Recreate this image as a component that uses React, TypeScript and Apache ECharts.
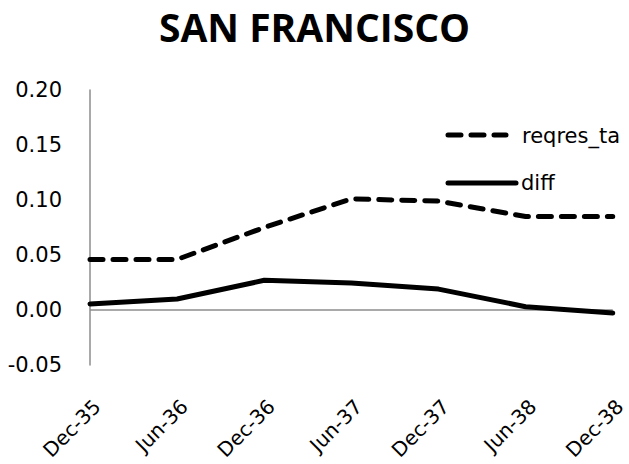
import React, { useEffect, useRef } from "react";
import * as echarts from "echarts";

const categories = ["Dec-35", "Jun-36", "Dec-36", "Jun-37", "Dec-37", "Jun-38", "Dec-38"];
const reqresTa = [0.046, 0.046, 0.075, 0.101, 0.099, 0.085, 0.085];
const diff = [0.0055, 0.010, 0.027, 0.0245, 0.019, 0.003, -0.0027];
const seriesNames = ["reqres_ta", "diff"];
const yTicks = { min: -0.05, max: 0.2, interval: 0.05 };

const labelFont = "DejaVu Sans";
const dash = [13, 10];

export default function App() {
  const ref = useRef<HTMLDivElement>(null);
  useEffect(() => {
    if (!ref.current) return;
    const chart = echarts.init(ref.current, undefined, { renderer: "svg" });
    chart.setOption({
      animation: false,
      backgroundColor: "#ffffff",
      title: {
        text: "SAN FRANCISCO",
        left: "center",
        top: 2,
        textStyle: { fontFamily: "Open Sans", fontWeight: "bold", fontSize: 39, color: "#000" },
      },
      graphic: [
        {
          type: "line",
          shape: { x1: 448, y1: 135, x2: 506, y2: 135 },
          style: { stroke: "#000", lineWidth: 5, lineDash: dash, lineCap: "round" },
        },
        {
          type: "text",
          x: 522,
          y: 136,
          style: { text: seriesNames[0], fontFamily: labelFont, fontSize: 21, fill: "#000", verticalAlign: "middle", align: "left" },
        },
        {
          type: "line",
          shape: { x1: 448, y1: 183, x2: 516, y2: 183 },
          style: { stroke: "#000", lineWidth: 5, lineCap: "round" },
        },
        {
          type: "text",
          x: 521,
          y: 183,
          style: { text: seriesNames[1], fontFamily: labelFont, fontSize: 21, fill: "#000", verticalAlign: "middle", align: "left" },
        },
      ],
      grid: { left: 90, right: 8, top: 90, bottom: 99 },
      xAxis: {
        type: "category",
        data: categories,
        boundaryGap: false,
        axisLine: { show: false },
        axisTick: { show: false },
        axisLabel: {
          rotate: 45,
          margin: 31,
          verticalAlign: "top",
          fontFamily: labelFont,
          fontSize: 20,
          color: "#000",
          interval: 0,
        },
      },
      yAxis: {
        type: "value",
        min: yTicks.min,
        max: yTicks.max,
        interval: yTicks.interval,
        axisLine: { show: true, lineStyle: { color: "#8c8c8c", width: 1.5 } },
        axisTick: { show: false },
        splitLine: { show: false },
        axisLabel: {
          margin: 28,
          fontFamily: labelFont,
          fontSize: 21,
          color: "#000",
          formatter: (v: number) => v.toFixed(2),
        },
      },
      series: [
        {
          name: seriesNames[0],
          type: "line",
          data: reqresTa,
          symbol: "none",
          color: "#000",
          lineStyle: { color: "#000", width: 5, type: dash, cap: "round" },
          z: 3,
        },
        {
          name: seriesNames[1],
          type: "line",
          data: diff,
          symbol: "none",
          color: "#000",
          lineStyle: { color: "#000", width: 5, cap: "round" },
          z: 3,
          markLine: {
            silent: true,
            symbol: "none",
            label: { show: false },
            lineStyle: { color: "#8c8c8c", width: 1.5, type: "solid" },
            data: [{ yAxis: 0 }],
            z: 1,
          },
        },
      ],
    });
    return () => chart.dispose();
  }, []);
  return <div ref={ref} style={{ width: 629, height: 464, position: "absolute", left: 0, top: 0 }} />;
}
